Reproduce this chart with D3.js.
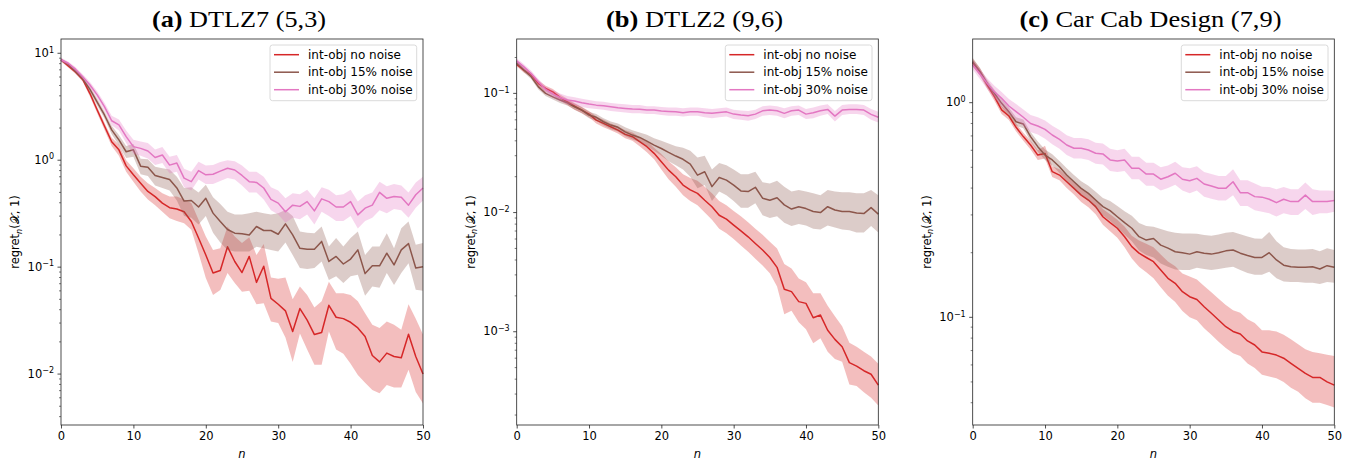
<!DOCTYPE html>
<html>
<head>
<meta charset="utf-8">
<script src="https://cdn.jsdelivr.net/npm/d3@7"></script>
<style>
  body { margin: 0; background: #fff; }
  svg text { font-family: "DejaVu Sans", sans-serif; }
</style>
</head>
<body>
<div id="chart"></div>
<script>
// iterations n = 0..50
const steps = d3.range(0, 51);
const xTicks = [0, 10, 20, 30, 40, 50];

const seriesNames = ["int-obj no noise", "int-obj 15% noise", "int-obj 30% noise"];
const seriesColors = ["#d62728", "#8c564b", "#e377c2"];

// (a) DTLZ7 (5,3)
const dtlz7_none = [8.7,7.6,6.7,5.7,4.2,2.95,2.09,1.49,1.25,0.885,0.73,0.61,0.51,0.457,0.397,0.36,0.35,0.33,0.267,0.187,0.13,0.088,0.093,0.155,0.113,0.089,0.126,0.072,0.102,0.051,0.045,0.039,0.025,0.041,0.032,0.0234,0.0245,0.044,0.034,0.033,0.0305,0.027,0.0225,0.0149,0.013,0.0157,0.0146,0.0142,0.0236,0.0146,0.01];
const dtlz7_none_lo = [8.4,7.35,6.45,5.45,3.95,2.75,1.93,1.36,1.1,0.78,0.63,0.51,0.43,0.38,0.33,0.287,0.27,0.258,0.224,0.135,0.079,0.055,0.061,0.088,0.071,0.059,0.06,0.045,0.046,0.031,0.03,0.022,0.013,0.024,0.017,0.0122,0.0122,0.025,0.017,0.0155,0.0125,0.0098,0.0083,0.0071,0.0066,0.0079,0.0075,0.0075,0.011,0.0068,0.0053];
const dtlz7_none_hi = [9.0,7.85,6.95,5.95,4.45,3.15,2.25,1.62,1.4,1.0,0.84,0.7,0.61,0.55,0.49,0.457,0.457,0.43,0.397,0.277,0.193,0.145,0.15,0.24,0.193,0.168,0.19,0.13,0.165,0.08,0.078,0.08,0.05,0.066,0.055,0.042,0.048,0.073,0.057,0.057,0.055,0.048,0.037,0.029,0.027,0.031,0.029,0.026,0.045,0.033,0.0234];
const dtlz7_n15 = [8.7,7.9,6.8,5.8,4.6,3.5,2.65,1.92,1.55,1.2,1.25,0.88,0.86,0.72,0.69,0.66,0.55,0.415,0.42,0.365,0.44,0.32,0.267,0.225,0.208,0.205,0.2,0.24,0.22,0.22,0.203,0.254,0.2,0.15,0.147,0.147,0.174,0.113,0.126,0.107,0.119,0.145,0.087,0.103,0.103,0.135,0.105,0.145,0.166,0.098,0.101];
const dtlz7_n15_lo = [8.4,7.6,6.5,5.5,4.3,3.25,2.45,1.75,1.38,1.05,1.08,0.74,0.71,0.58,0.55,0.52,0.42,0.3,0.29,0.25,0.3,0.21,0.17,0.145,0.14,0.14,0.14,0.155,0.15,0.145,0.14,0.17,0.13,0.098,0.096,0.098,0.113,0.076,0.082,0.071,0.082,0.085,0.054,0.066,0.064,0.088,0.068,0.088,0.109,0.0615,0.06];
const dtlz7_n15_hi = [9.0,8.2,7.1,6.1,4.9,3.75,2.85,2.1,1.72,1.36,1.42,1.03,1.02,0.87,0.84,0.82,0.7,0.55,0.56,0.5,0.59,0.45,0.39,0.33,0.31,0.31,0.32,0.33,0.32,0.31,0.32,0.343,0.3,0.215,0.21,0.208,0.24,0.156,0.187,0.156,0.187,0.215,0.13,0.156,0.156,0.208,0.15,0.231,0.267,0.162,0.168];
const dtlz7_n30 = [8.7,8.07,7.1,6.04,5.05,4.08,3.17,2.34,2.14,1.66,1.34,1.29,1.22,1.06,1.12,0.9,0.94,0.68,0.63,0.8,0.73,0.74,0.79,0.84,0.81,0.72,0.63,0.62,0.55,0.43,0.397,0.33,0.38,0.37,0.41,0.336,0.435,0.41,0.365,0.365,0.41,0.308,0.356,0.38,0.5,0.44,0.457,0.45,0.38,0.475,0.55];
const dtlz7_n30_lo = [8.4,7.75,6.8,5.75,4.75,3.8,2.9,2.12,1.9,1.45,1.15,1.1,1.04,0.9,0.94,0.75,0.78,0.56,0.52,0.66,0.6,0.6,0.64,0.68,0.66,0.58,0.5,0.5,0.43,0.34,0.31,0.26,0.29,0.28,0.31,0.25,0.33,0.3,0.27,0.27,0.3,0.23,0.27,0.29,0.34,0.32,0.35,0.34,0.29,0.36,0.42];
const dtlz7_n30_hi = [9.1,8.4,7.45,6.35,5.4,4.4,3.45,2.6,2.4,1.9,1.55,1.5,1.45,1.26,1.33,1.08,1.12,0.83,0.78,0.97,0.89,0.9,0.96,1.0,0.98,0.89,0.78,0.78,0.7,0.56,0.52,0.44,0.49,0.48,0.53,0.44,0.56,0.53,0.47,0.48,0.53,0.41,0.47,0.5,0.63,0.57,0.6,0.58,0.5,0.62,0.7];

// (b) DTLZ2 (9,6)
const dtlz2_none = [0.175,0.157,0.143,0.121,0.11,0.103,0.0925,0.085,0.078,0.0724,0.067,0.0597,0.056,0.0525,0.0492,0.0453,0.0433,0.0393,0.0357,0.0314,0.0267,0.0227,0.02,0.017,0.0155,0.0145,0.0127,0.0112,0.0095,0.0088,0.00785,0.00703,0.00626,0.0055,0.00485,0.0042,0.00347,0.00227,0.00217,0.00179,0.00173,0.00131,0.00138,0.00103,0.000863,0.000748,0.00055,0.000515,0.000471,0.00044,0.000357];
const dtlz2_none_lo = [0.168,0.15,0.137,0.115,0.104,0.097,0.087,0.08,0.073,0.068,0.063,0.056,0.052,0.049,0.046,0.042,0.04,0.036,0.032,0.028,0.023,0.019,0.0165,0.014,0.0125,0.0115,0.01,0.0087,0.0073,0.0067,0.006,0.0053,0.0047,0.0041,0.0036,0.0031,0.0024,0.0014,0.0015,0.0012,0.00105,0.0008,0.00088,0.00068,0.00059,0.00056,0.00036,0.00035,0.00031,0.00028,0.00024];
const dtlz2_none_hi = [0.183,0.164,0.15,0.128,0.116,0.109,0.098,0.09,0.083,0.077,0.071,0.064,0.06,0.056,0.053,0.049,0.047,0.043,0.04,0.035,0.031,0.027,0.024,0.021,0.0195,0.0185,0.0165,0.0145,0.0125,0.0115,0.0103,0.0093,0.0083,0.0073,0.0065,0.0057,0.005,0.0037,0.0034,0.0028,0.0026,0.0021,0.0021,0.00165,0.00135,0.00111,0.00081,0.00075,0.00068,0.00062,0.00054];
const dtlz2_n15 = [0.181,0.157,0.138,0.1135,0.1,0.0936,0.0879,0.0834,0.0772,0.0724,0.0658,0.063,0.0578,0.0542,0.0519,0.0476,0.0447,0.0427,0.0398,0.0368,0.0345,0.032,0.0298,0.028,0.0255,0.0206,0.022,0.0165,0.0197,0.0187,0.017,0.0152,0.015,0.0163,0.0132,0.0127,0.0133,0.0116,0.0107,0.0112,0.0108,0.0102,0.01,0.0112,0.0105,0.0102,0.0102,0.0099,0.0098,0.011,0.0097];
const dtlz2_n15_lo = [0.174,0.15,0.132,0.108,0.095,0.089,0.083,0.079,0.073,0.068,0.062,0.059,0.054,0.05,0.048,0.044,0.041,0.039,0.036,0.033,0.03,0.027,0.025,0.023,0.02,0.016,0.017,0.0125,0.015,0.014,0.0125,0.011,0.011,0.012,0.0095,0.009,0.0093,0.0082,0.0077,0.008,0.0078,0.0073,0.0072,0.0078,0.0075,0.0072,0.0071,0.0068,0.0068,0.0077,0.0068];
const dtlz2_n15_hi = [0.188,0.164,0.144,0.119,0.105,0.098,0.093,0.088,0.082,0.077,0.07,0.067,0.062,0.058,0.056,0.052,0.049,0.047,0.045,0.042,0.04,0.038,0.036,0.035,0.033,0.029,0.03,0.023,0.026,0.025,0.023,0.021,0.021,0.022,0.018,0.0175,0.0185,0.0165,0.015,0.0155,0.015,0.0145,0.014,0.0155,0.015,0.0148,0.0148,0.0145,0.0145,0.0155,0.014];
const dtlz2_n30 = [0.1875,0.167,0.147,0.125,0.108,0.0987,0.0925,0.0879,0.0862,0.0834,0.0813,0.0797,0.0787,0.0772,0.0757,0.0748,0.074,0.0737,0.0724,0.0724,0.071,0.0705,0.0701,0.0688,0.07,0.07,0.0688,0.068,0.069,0.07,0.067,0.0658,0.065,0.067,0.0714,0.0724,0.0714,0.068,0.0714,0.0724,0.067,0.0688,0.0714,0.0734,0.0645,0.0724,0.0734,0.0734,0.0724,0.0667,0.063];
const dtlz2_n30_lo = [0.178,0.159,0.14,0.118,0.101,0.092,0.086,0.081,0.08,0.077,0.075,0.074,0.073,0.071,0.07,0.069,0.068,0.068,0.067,0.067,0.066,0.065,0.065,0.064,0.065,0.065,0.063,0.062,0.063,0.064,0.061,0.06,0.059,0.061,0.065,0.066,0.065,0.062,0.065,0.066,0.061,0.062,0.065,0.067,0.058,0.066,0.067,0.067,0.066,0.06,0.057];
const dtlz2_n30_hi = [0.197,0.176,0.155,0.132,0.115,0.106,0.1,0.095,0.093,0.09,0.088,0.086,0.085,0.083,0.082,0.081,0.08,0.08,0.078,0.078,0.077,0.076,0.076,0.075,0.076,0.076,0.075,0.074,0.075,0.076,0.073,0.072,0.071,0.073,0.078,0.079,0.078,0.075,0.078,0.079,0.074,0.076,0.079,0.081,0.071,0.08,0.081,0.081,0.08,0.074,0.07];

// (c) Car Cab Design (7,9)
const carcab_none = [1.536,1.395,1.21,1.067,0.925,0.867,0.768,0.695,0.635,0.57,0.58,0.477,0.46,0.428,0.399,0.371,0.352,0.328,0.294,0.276,0.26,0.2375,0.2135,0.199,0.19,0.1816,0.166,0.152,0.144,0.1316,0.1247,0.121,0.112,0.1044,0.0971,0.0904,0.0859,0.0836,0.0776,0.0743,0.069,0.068,0.0667,0.0645,0.061,0.0578,0.0548,0.0525,0.0525,0.05,0.0483];
const carcab_none_lo = [1.47,1.34,1.16,1.02,0.885,0.83,0.735,0.665,0.605,0.54,0.55,0.45,0.435,0.4,0.373,0.345,0.326,0.302,0.27,0.252,0.235,0.212,0.188,0.172,0.162,0.152,0.138,0.126,0.118,0.107,0.1,0.097,0.089,0.083,0.077,0.072,0.068,0.066,0.061,0.058,0.054,0.053,0.052,0.05,0.047,0.045,0.042,0.04,0.04,0.039,0.038];
const carcab_none_hi = [1.6,1.45,1.26,1.11,0.965,0.905,0.8,0.725,0.665,0.6,0.63,0.505,0.49,0.455,0.425,0.398,0.378,0.355,0.32,0.302,0.285,0.265,0.24,0.228,0.22,0.212,0.196,0.182,0.173,0.16,0.155,0.15,0.14,0.131,0.122,0.114,0.108,0.105,0.098,0.094,0.087,0.087,0.086,0.083,0.079,0.075,0.071,0.069,0.068,0.067,0.066];
const carcab_n15 = [1.553,1.395,1.23,1.106,0.993,0.908,0.815,0.796,0.695,0.624,0.57,0.541,0.503,0.46,0.428,0.399,0.378,0.352,0.328,0.314,0.294,0.276,0.26,0.2375,0.229,0.233,0.217,0.21,0.202,0.2,0.197,0.202,0.199,0.197,0.2,0.204,0.206,0.199,0.194,0.19,0.19,0.2,0.185,0.175,0.172,0.171,0.171,0.172,0.168,0.174,0.171];
const carcab_n15_lo = [1.49,1.34,1.18,1.06,0.95,0.87,0.78,0.76,0.66,0.59,0.54,0.51,0.47,0.43,0.398,0.37,0.348,0.322,0.298,0.282,0.262,0.243,0.226,0.205,0.195,0.19,0.178,0.172,0.167,0.166,0.166,0.17,0.168,0.166,0.168,0.17,0.172,0.166,0.161,0.158,0.158,0.163,0.152,0.147,0.146,0.146,0.145,0.145,0.143,0.146,0.145];
const carcab_n15_hi = [1.62,1.45,1.28,1.15,1.04,0.95,0.855,0.835,0.73,0.66,0.605,0.575,0.535,0.495,0.46,0.43,0.41,0.385,0.36,0.348,0.33,0.312,0.297,0.275,0.266,0.264,0.258,0.252,0.248,0.246,0.246,0.245,0.242,0.24,0.243,0.248,0.25,0.244,0.238,0.233,0.232,0.25,0.226,0.212,0.208,0.207,0.207,0.208,0.203,0.21,0.206];
const carcab_n30 = [1.5,1.36,1.23,1.125,1.048,0.965,0.908,0.855,0.8,0.779,0.751,0.707,0.675,0.635,0.613,0.613,0.602,0.581,0.577,0.541,0.535,0.541,0.495,0.495,0.465,0.465,0.44,0.452,0.469,0.44,0.433,0.444,0.418,0.409,0.399,0.399,0.428,0.381,0.381,0.365,0.363,0.355,0.342,0.355,0.346,0.346,0.371,0.346,0.346,0.346,0.35];
const carcab_n30_lo = [1.43,1.29,1.16,1.05,0.97,0.89,0.83,0.78,0.73,0.71,0.68,0.64,0.61,0.57,0.55,0.55,0.54,0.52,0.515,0.48,0.475,0.48,0.44,0.44,0.41,0.41,0.39,0.4,0.415,0.39,0.378,0.39,0.365,0.357,0.35,0.35,0.37,0.33,0.33,0.315,0.31,0.305,0.295,0.305,0.3,0.3,0.32,0.3,0.305,0.305,0.31];
const carcab_n30_hi = [1.57,1.43,1.3,1.2,1.12,1.04,0.985,0.93,0.875,0.855,0.825,0.78,0.745,0.705,0.685,0.685,0.675,0.65,0.645,0.61,0.6,0.61,0.56,0.56,0.525,0.525,0.5,0.51,0.53,0.5,0.495,0.505,0.475,0.465,0.455,0.455,0.49,0.435,0.435,0.42,0.406,0.405,0.395,0.405,0.395,0.395,0.425,0.395,0.39,0.39,0.389];

const width = 1360, height = 463;
const plotTop = 39, plotBottom = 425;

const panels = [
  {tag: "(a)", name: " DTLZ7 (5,3)", left: 61, right: 423, yDomain: [0.00334, 13.6], titleLen: 174,
   mean: [dtlz7_none, dtlz7_n15, dtlz7_n30], lo: [dtlz7_none_lo, dtlz7_n15_lo, dtlz7_n30_lo], hi: [dtlz7_none_hi, dtlz7_n15_hi, dtlz7_n30_hi]},
  {tag: "(b)", name: " DTLZ2 (9,6)", left: 516.7, right: 878.3, yDomain: [0.000165, 0.286], titleLen: 177,
   mean: [dtlz2_none, dtlz2_n15, dtlz2_n30], lo: [dtlz2_none_lo, dtlz2_n15_lo, dtlz2_n30_lo], hi: [dtlz2_none_hi, dtlz2_n15_hi, dtlz2_n30_hi]},
  {tag: "(c)", name: " Car Cab Design (7,9)", left: 972.7, right: 1334.3, yDomain: [0.0315, 1.98], titleLen: 262,
   mean: [carcab_none, carcab_n15, carcab_n30], lo: [carcab_none_lo, carcab_n15_lo, carcab_n30_lo], hi: [carcab_none_hi, carcab_n15_hi, carcab_n30_hi]}
];

const svg = d3.select("#chart").append("svg")
    .attr("width", width)
    .attr("height", height);

const fontSize = 11.5;
const legendFont = 12;

panels.forEach(p => {
  let x = d3.scaleLinear([0, 50], [p.left, p.right]);
  let y = d3.scaleLog(p.yDomain, [plotBottom, plotTop]);
  let g = svg.append("g");

  // bands and mean lines
  p.mean.forEach((m, i) => {
    let area = d3.area()
      .x(n => x(n))
      .y0(n => y(p.lo[i][n]))
      .y1(n => y(p.hi[i][n]));
    g.append("path")
      .attr("d", area(steps))
      .attr("fill", seriesColors[i])
      .attr("fill-opacity", 0.3)
      .attr("stroke", "none");
    let line = d3.line()
      .x(n => x(n))
      .y(n => y(m[n]));
    g.append("path")
      .attr("d", line(steps))
      .attr("fill", "none")
      .attr("stroke", seriesColors[i])
      .attr("stroke-width", 1.5)
      .attr("stroke-linejoin", "round");
  });

  // x axis
  let xAxis = g.append("g")
    .attr("transform", `translate(0,${plotBottom})`)
    .call(d3.axisBottom(x).tickValues(xTicks).tickSize(3.5).tickPadding(3.5).tickFormat(d3.format("d")));
  xAxis.select(".domain").remove();
  xAxis.selectAll("line").attr("stroke", "#222").attr("stroke-width", 0.8);
  xAxis.selectAll("text").attr("font-size", fontSize).attr("font-family", "DejaVu Sans").attr("fill", "#000");

  // y axis (log, decades labelled, minor ticks)
  let e0 = Math.floor(Math.log10(p.yDomain[0])), e1 = Math.ceil(Math.log10(p.yDomain[1]));
  let yAxis = g.append("g");
  for (let e = e0; e <= e1; e++) {
    let v = Math.pow(10, e);
    if (v >= p.yDomain[0] && v <= p.yDomain[1]) {
      yAxis.append("line")
        .attr("x1", p.left - 3.5).attr("x2", p.left)
        .attr("y1", y(v)).attr("y2", y(v))
        .attr("stroke", "#222").attr("stroke-width", 0.8);
      let t = yAxis.append("text")
        .attr("x", p.left - 7)
        .attr("y", y(v))
        .attr("dy", "0.32em")
        .attr("text-anchor", "end")
        .attr("font-size", fontSize);
      t.append("tspan").text("10");
      t.append("tspan")
        .attr("font-size", 8)
        .attr("dy", "-0.55em")
        .text(String(e).replace("-", "\u2212"));
    }
    for (let k = 2; k <= 9; k++) {
      let mv = k * v;
      if (mv >= p.yDomain[0] && mv <= p.yDomain[1]) {
        yAxis.append("line")
          .attr("x1", p.left - 2).attr("x2", p.left)
          .attr("y1", y(mv)).attr("y2", y(mv))
          .attr("stroke", "#222").attr("stroke-width", 0.6);
      }
    }
  }

  // spines
  g.append("rect")
    .attr("x", p.left).attr("y", plotTop)
    .attr("width", p.right - p.left).attr("height", plotBottom - plotTop)
    .attr("fill", "none").attr("stroke", "#222").attr("stroke-width", 0.8);

  // title
  let title = g.append("text")
    .attr("x", (p.left + p.right) / 2 - 3)
    .attr("y", 27)
    .attr("text-anchor", "middle")
    .style("font-family", "'Liberation Serif', 'Times New Roman', serif")
    .attr("font-size", 23.5)
    .attr("textLength", p.titleLen)
    .attr("lengthAdjust", "spacingAndGlyphs");
  title.append("tspan").attr("font-weight", "bold").text(p.tag);
  title.append("tspan").text(p.name);

  // axis labels
  g.append("text")
    .attr("x", (p.left + p.right) / 2)
    .attr("y", 458)
    .attr("text-anchor", "middle")
    .attr("font-size", fontSize)
    .attr("font-style", "italic")
    .text("n");

  let yl = g.append("text")
    .attr("transform", `translate(${p.left - 46},${(plotTop + plotBottom) / 2}) rotate(-90)`)
    .attr("text-anchor", "middle")
    .attr("dy", "0.35em")
    .attr("font-size", fontSize);
  yl.append("tspan").text("regret");
  yl.append("tspan").attr("font-size", 8).attr("font-style", "italic").attr("dy", 2.5).text("n");
  yl.append("tspan").attr("dy", -2.5).text("(\u{1D4B3}, 1)");

  // legend
  let lw = 146.7, lh = 55.7;
  let lx = p.right - 6.3 - lw, ly = plotTop + 6;
  let legend = g.append("g");
  legend.append("rect")
    .attr("x", lx).attr("y", ly).attr("width", lw).attr("height", lh)
    .attr("rx", 2.5)
    .attr("fill", "#fff").attr("fill-opacity", 0.8)
    .attr("stroke", "#d0d0d0").attr("stroke-width", 0.8);
  seriesNames.forEach((s, i) => {
    let cy = ly + 9.7 + i * 17.5;
    legend.append("line")
      .attr("x1", lx + 4).attr("x2", lx + 29)
      .attr("y1", cy).attr("y2", cy)
      .attr("stroke", seriesColors[i]).attr("stroke-width", 1.5);
    legend.append("text")
      .attr("x", lx + 38)
      .attr("y", cy)
      .attr("dy", "0.35em")
      .attr("font-size", legendFont)
      .text(s);
  });
});
</script>
</body>
</html>
